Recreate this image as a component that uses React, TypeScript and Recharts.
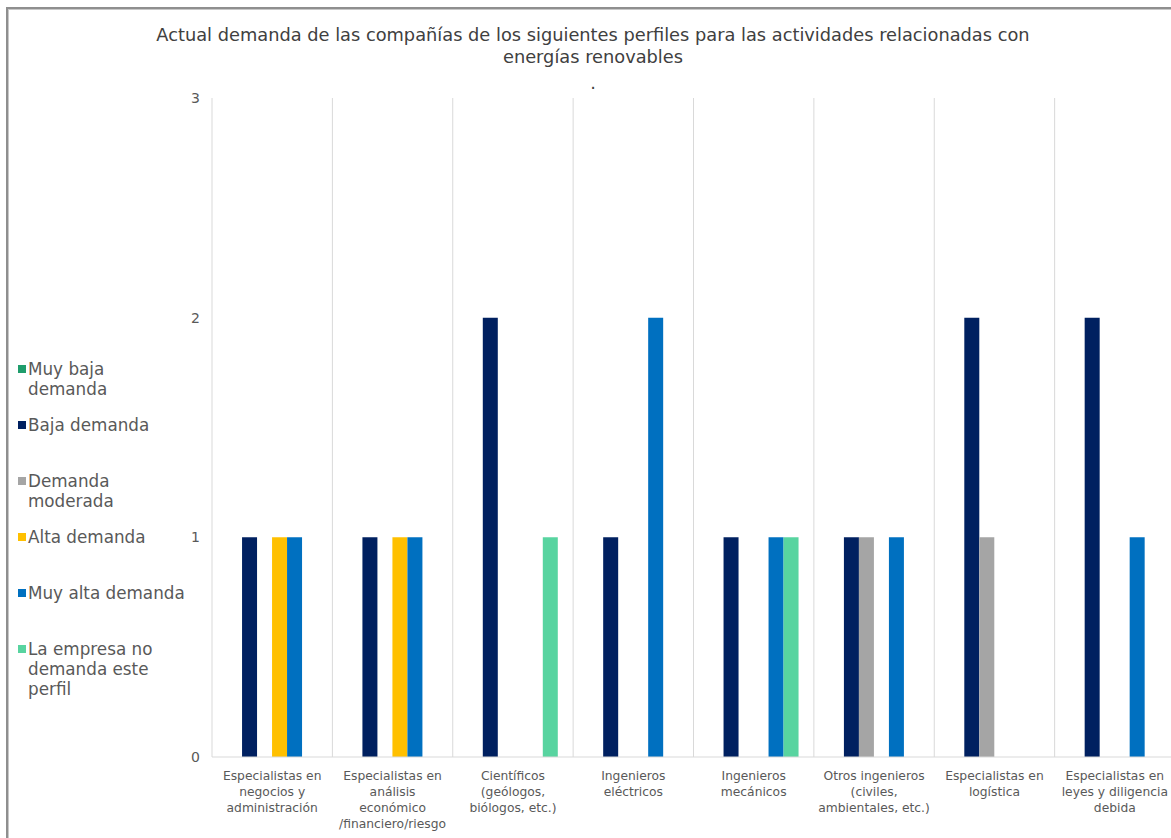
import React from 'react';
import { Bar, BarChart, CartesianGrid, Legend, XAxis, YAxis } from 'recharts';

// category labels, already broken into the lines shown under the axis
const categories = [
  'Especialistas en\nnegocios y\nadministración',
  'Especialistas en\nanálisis\neconómico\n/financiero/riesgo',
  'Científicos\n(geólogos,\nbiólogos, etc.)',
  'Ingenieros\neléctricos',
  'Ingenieros\nmecánicos',
  'Otros ingenieros\n(civiles,\nambientales, etc.)',
  'Especialistas en\nlogística',
  'Especialistas en\nleyes y diligencia\ndebida',
];

const muyBaja = [0, 0, 0, 0, 0, 0, 0, 0];
const baja = [1, 1, 2, 1, 1, 1, 2, 2];
const moderada = [0, 0, 0, 0, 0, 1, 1, 0];
const alta = [1, 1, 0, 0, 0, 0, 0, 0];
const muyAlta = [1, 1, 0, 2, 1, 1, 0, 1];
const noDemanda = [0, 0, 1, 0, 1, 0, 0, 0];

const yTicks = [0, 1, 2, 3];

const series = [
  { key: 'muyBaja', name: 'Muy baja demanda', lines: ['Muy baja', 'demanda'], color: '#1f9d6c', values: muyBaja },
  { key: 'baja', name: 'Baja demanda', lines: ['Baja demanda'], color: '#002060', values: baja },
  { key: 'moderada', name: 'Demanda moderada', lines: ['Demanda', 'moderada'], color: '#a5a5a5', values: moderada },
  { key: 'alta', name: 'Alta demanda', lines: ['Alta demanda'], color: '#ffc000', values: alta },
  { key: 'muyAlta', name: 'Muy alta demanda', lines: ['Muy alta demanda'], color: '#0070c0', values: muyAlta },
  { key: 'noDemanda', name: 'La empresa no demanda este perfil', lines: ['La empresa no', 'demanda este', 'perfil'], color: '#58d4a0', values: noDemanda },
];

const data = categories.map((name, i) => {
  const row: Record<string, string | number> = { name };
  series.forEach((s) => {
    row[s.key] = s.values[i];
  });
  return row;
});

const FONT = '"DejaVu Sans", sans-serif';
const TEXT = '#595959';

function CategoryTick(props: any) {
  const { x, y, payload } = props;
  const lines = String(payload.value).split('\n');
  return (
    <text x={x} y={y} textAnchor="middle" fill={TEXT} fontSize={12.3} fontFamily={FONT}>
      {lines.map((line, i) => (
        <tspan key={i} x={x} dy={i === 0 ? 15 : 16}>
          {line}
        </tspan>
      ))}
    </text>
  );
}

function SideLegend() {
  return (
    <div style={{ width: 170, fontFamily: FONT, fontSize: 16.8, color: TEXT, lineHeight: '20px' }}>
      {series.map((s) => (
        <div key={s.key} style={{ height: 56, position: 'relative', paddingLeft: 14 }}>
          <span
            style={{ position: 'absolute', left: 4, top: 6, width: 8, height: 8, background: s.color }}
          />
          {s.lines.map((l, i) => (
            <div key={i} style={{ whiteSpace: 'nowrap' }}>{l}</div>
          ))}
        </div>
      ))}
    </div>
  );
}

export default function App() {
  return (
    <div
      style={{
        position: 'fixed',
        left: 0,
        top: 0,
        width: 1171,
        height: 838,
        overflow: 'hidden',
        background: '#ffffff',
      }}
    >
      <style>{'html, body { margin: 0; overflow: hidden; }'}</style>
      <div
        style={{
          position: 'absolute',
          left: 6,
          top: 7,
          width: 1300,
          height: 1000,
          borderTop: '2px solid #8f8f8f',
          borderLeft: '2px solid #8f8f8f',
          boxShadow: 'inset 1px 1px 0 #c8c8c8',
        }}
      />
      <div
        style={{
          position: 'absolute',
          left: 6,
          width: 1174,
          top: 24,
          textAlign: 'center',
          fontFamily: FONT,
          fontSize: 17.8,
          lineHeight: '22px',
          color: '#404040',
        }}
      >
        <div>Actual demanda de las compañías de los siguientes perfiles para las actividades relacionadas con</div>
        <div>energías renovables</div>
        <div style={{ marginTop: 4 }}>.</div>
      </div>
      <div style={{ position: 'absolute', left: 0, top: 0 }}>
        <BarChart
          width={1180}
          height={838}
          data={data}
          margin={{ top: 98, right: 5, bottom: 0, left: 14 }}
          barCategoryGap="12.5%"
          barGap={0}
        >
          <CartesianGrid
            horizontal={false}
            stroke="#d9d9d9"
            verticalCoordinatesGenerator={({ offset }: any) =>
              Array.from({ length: categories.length + 1 }, (_, i) => offset.left + (i * offset.width) / categories.length)
            }
          />
          <XAxis
            dataKey="name"
            interval={0}
            height={81}
            tickLine={false}
            axisLine={{ stroke: '#d9d9d9' }}
            tick={<CategoryTick />}
          />
          <YAxis
            width={28}
            domain={[0, 3]}
            ticks={yTicks}
            tickLine={false}
            axisLine={false}
            tickMargin={6}
            tick={{ fill: TEXT, fontSize: 14, fontFamily: FONT }}
          />
          <Legend
            layout="vertical"
            align="left"
            verticalAlign="top"
            width={170}
            wrapperStyle={{ left: 14, top: 359 }}
            content={() => <SideLegend />}
          />
          {series.map((s) => (
            <Bar key={s.key} dataKey={s.key} name={s.name} fill={s.color} isAnimationActive={false} />
          ))}
        </BarChart>
      </div>
    </div>
  );
}
